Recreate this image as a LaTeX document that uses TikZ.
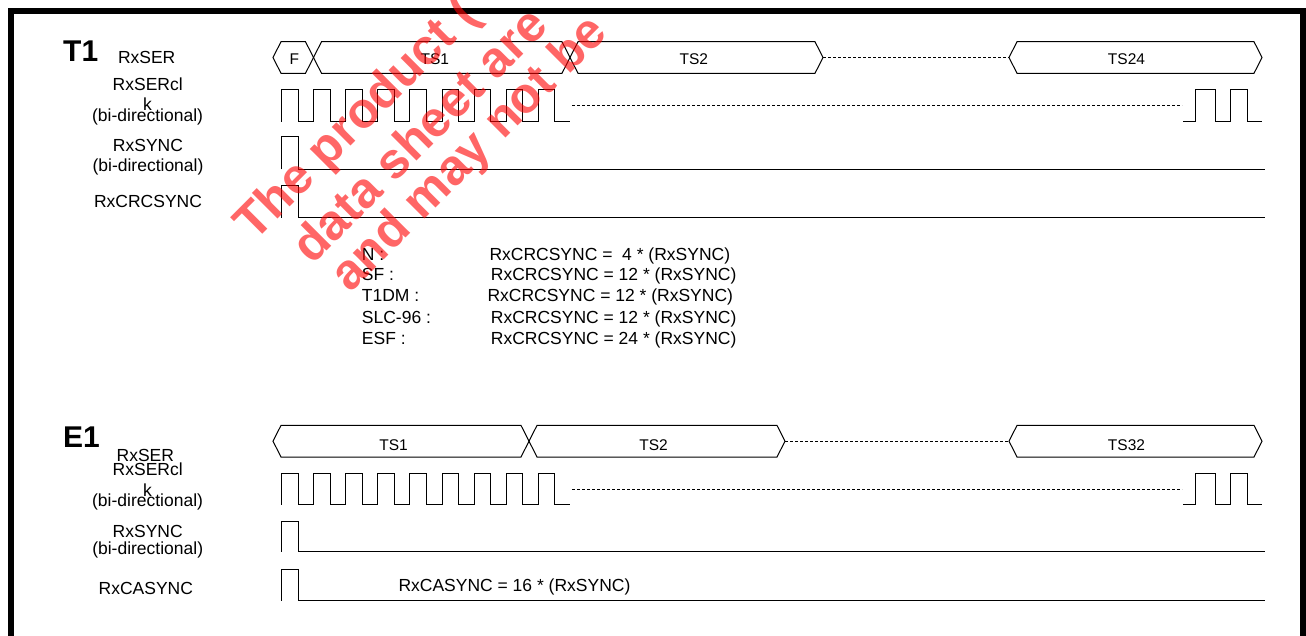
\documentclass[tikz,border=0pt]{standalone}
\usepackage{fontspec}
\setmainfont{Liberation Sans}
\newcommand\mybus[7]{%
  \draw[wave] ({#1},{#3}) -- ({#1+8},{#3-15.8}) -- ({#2-8},{#3-15.8}) -- ({#2},{#3})
    -- ({#2-8},{#3+15.8}) -- ({#1+8},{#3+15.8}) -- cycle;
  \node[buslbl] (#6) at ({#4},{#5}) {#7};}
\newcommand\myclock[4]{% low, high, dashed y, name
  \draw[wave] (281.7,#1) \foreach \k in {0,...,8} {
      -- ({281.7+32.07*\k},#1) -- ({281.7+32.07*\k},#2)
      -- ({298.3+32.0*\k},#2) -- ({298.3+32.0*\k},#1) } -- (570,#1);
  \coordinate (#4a) at (572,#3);
  \coordinate (#4b) at (1182,#3);
  \draw[gap] (#4a) -- (#4b);
  \draw[wave] (1183,#1) -- (1195,#1) -- (1195,#2) -- (1215,#2) -- (1215,#1)
     -- (1230,#1) -- (1230,#2) -- (1247,#2) -- (1247,#1) -- (1262,#1);}
\newcommand\mypulse[2]{% low, high
  \draw[wave] (281.7,#1) -- (281.7,#2) -- (298.3,#2) -- (298.3,#1) -- (1265,#1);}
\begin{document}
\begin{tikzpicture}[x=1pt,y=-1pt, line join=miter,
  lbl/.style={font=\fontsize{17.5}{20}\selectfont, inner sep=0pt, anchor=base},
  eq/.style={font=\fontsize{17.5}{20}\selectfont, inner sep=0pt, anchor=base west},
  buslbl/.style={font=\fontsize{15.5}{18}\selectfont, inner sep=0pt, anchor=base},
  ttl/.style={font=\bfseries\fontsize{30}{34}\selectfont, inner sep=0pt, anchor=base west},
  wave/.style={line width=1pt, black},
  gap/.style={dash pattern=on 3pt off 2pt, line width=0.8pt},
  frame/.style={line width=6pt},
  wm/.style={font=\bfseries\fontsize{50}{56}\selectfont, text=red, text opacity=0.6,
    rotate=45, anchor=base west, inner sep=0pt}]
\useasboundingbox (0,0) rectangle (1306,635);
% frame
\coordinate (fa) at (11,645);
\coordinate (fb) at (11,11);
\coordinate (fc) at (1302.5,11);
\coordinate (fd) at (1302.5,645);
\draw[frame] (fa) -- (fb) -- (fc) -- (fd);

% ---------------- T1 ----------------
\node[ttl] (t1) at (63,61.5) {T1};
\node[lbl] (t1ser) at (146.7,63.3) {RxSER};
\node[lbl] (t1clka) at (147.7,90.7) {RxSERcl};
\node[lbl] (t1clkb) at (147.5,110.7) {k};
\node[lbl] (t1clkc) at (147.6,121) {(bi-directional)};
\node[lbl] (t1synca) at (148,151.7) {RxSYNC};
\node[lbl] (t1syncb) at (148,171) {(bi-directional)};
\node[lbl] (t1crc) at (148,207.3) {RxCRCSYNC};

\mybus{273}{313.5}{57.5}{294.3}{64.3}{t1f}{F}
\mybus{313.5}{570}{57.5}{434.8}{64.3}{t1ts1}{TS1}
\mybus{570}{823}{57.5}{693.8}{64.3}{t1ts2}{TS2}
\mybus{1009}{1262}{57.5}{1126.5}{64.3}{t1ts24}{TS24}
\coordinate (t1ga) at (823,57.5);
\coordinate (t1gb) at (1009,57.5);
\draw[gap] (t1ga) -- (t1gb);

\myclock{121.5}{89.3}{105.5}{t1d}
\mypulse{169.3}{136.7}
\mypulse{217.7}{185}

\node[eq] (n1) at (361.7,260.5) {N :};
\node[eq] (n2) at (361.7,280.5) {SF :};
\node[eq] (n3) at (361.7,301) {T1DM :};
\node[eq] (n4) at (361.7,323.5) {SLC-96 :};
\node[eq] (n5) at (361.7,344.5) {ESF :};
\node[eq] (e1q) at (489.3,260.5) {RxCRCSYNC =\ \ 4 * (RxSYNC)};
\node[eq] (e2q) at (490.7,280.5) {RxCRCSYNC = 12 * (RxSYNC)};
\node[eq] (e3q) at (487.3,301) {RxCRCSYNC = 12 * (RxSYNC)};
\node[eq] (e4q) at (490.7,323.5) {RxCRCSYNC = 12 * (RxSYNC)};
\node[eq] (e5q) at (490.7,344.5) {RxCRCSYNC = 24 * (RxSYNC)};

% ---------------- E1 ----------------
\node[ttl] (e1) at (63,447.3) {E1};
\node[lbl] (e1ser) at (145.3,461.7) {RxSER};
\node[lbl] (e1clka) at (147.7,475) {RxSERcl};
\node[lbl] (e1clkb) at (147.5,496.5) {k};
\node[lbl] (e1clkc) at (147.6,506.5) {(bi-directional)};
\node[lbl] (e1synca) at (147.7,537.3) {RxSYNC};
\node[lbl] (e1syncb) at (147.7,554.7) {(bi-directional)};
\node[lbl] (e1cas) at (145.8,594.3) {RxCASYNC};

\mybus{273}{529}{441.2}{393.5}{450}{e1ts1}{TS1}
\mybus{529}{785}{441.2}{653.5}{450}{e1ts2}{TS2}
\mybus{1009}{1262}{441.2}{1126.5}{450}{e1ts32}{TS32}
\coordinate (e1ga) at (785,441.2);
\coordinate (e1gb) at (1009,441.2);
\draw[gap] (e1ga) -- (e1gb);

\myclock{504.5}{473.3}{489}{e1d}
\mypulse{551.7}{521.7}
\mypulse{600.7}{569}
\node[eq] (casq) at (398.3,591.5) {RxCASYNC = 16 * (RxSYNC)};

% watermark
\node[wm] (wm1) at (254,243) {The product (};
\node[wm] (wm2) at (312,266) {data sheet are};
\node[wm] (wm3) at (350,294) {and may not be};
\end{tikzpicture}
\end{document}
